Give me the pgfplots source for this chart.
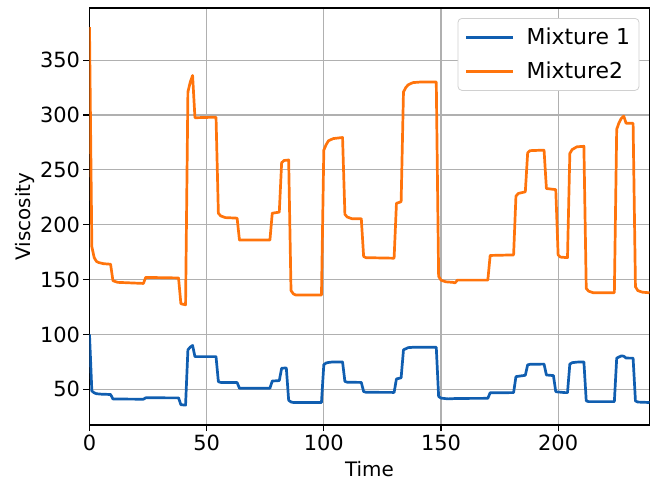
\documentclass[border=0pt]{standalone}
\usepackage{pgfplots}
\pgfplotsset{compat=1.18}
\usepackage{fontspec}
\setmainfont{DejaVu Sans}
\definecolor{mblue}{RGB}{16,94,176}
\definecolor{morange}{RGB}{255,116,12}
\definecolor{gridc}{RGB}{176,176,176}
\begin{document}
\begin{tikzpicture}
\begin{axis}[
  scale only axis, width=560bp, height=417bp,
  xmin=0, xmax=239, ymin=17.5, ymax=397.5,
  xtick={0,50,100,150,200}, ytick={50,100,150,200,250,300,350},
  grid=major, major grid style={color=gridc, line width=1.1bp},
  axis line style={line width=1.1bp},
  tick align=outside, major tick length=6bp, tick style={black, line width=1.1bp},
  tick pos=left,
  /pgf/number format/assume math mode=true,
  ticklabel style={font=\fontsize{21}{25}\selectfont},
  label style={font=\fontsize{20}{24}\selectfont},
  xlabel={Time}, ylabel={Viscosity},
  xlabel style={at={(axis description cs:0.5,-0.1247)}, anchor=base},
  ylabel style={at={(axis description cs:-0.1152,0.5)}, anchor=center},
  legend style={at={(axis description cs:0.982,0.976)}, anchor=north east,
    draw=gridc!60, rounded corners=4bp, line width=0.8bp,
    font=\fontsize{22}{26}\selectfont, inner xsep=7bp, inner ysep=2bp,
    nodes={minimum height=34bp},
    /tikz/every odd column/.append style={column sep=10bp}},
  legend cell align=left,
  legend image code/.code={\draw[#1, line width=2.7bp] (0bp,0bp) -- (47bp,0bp);},
  every axis plot/.append style={line width=2.7bp, line join=round},
]
\addplot[mblue] coordinates {
(0,100) (1,48.5) (2,46.8) (3,46) (5,45.6) (9,45.3) (10,41.2) (23,41) (24,42.3) (38,42.2) (39,36) (41,35.6) (42,86) (43,88.5) (44,90) (45,79.8) (54,79.8) (55,57) (56,56.3) (63,56.2) (64,51) (77,51) (78,57.6) (80,57.8) (81,58) (82,69.2) (84,69.5) (85,40) (86,38.5) (87,38) (99,38) (100,72.5) (101,74) (102,74.5) (104,75) (108,75) (109,57.2) (110,56.5) (116,56.3) (117,48) (118,47.3) (130,47.2) (131,59.5) (133,60.5) (134,86) (135,87) (136,88) (138,88.3) (148,88.3) (149,43.5) (150,42) (153,41.3) (157,41.7) (170,41.8) (171,46.9) (181,47) (182,61.6) (185,62.5) (186,62.8) (187,72.3) (188,72.8) (194,73) (195,63.1) (198,62.5) (199,47.8) (203,47) (204,47) (205,73) (206,74.3) (208,74.8) (211,75) (212,39.5) (213,38.8) (224,38.8) (225,78.4) (226,79.5) (227,80.5) (228,80.2) (229,78.5) (232,78.4) (233,39.4) (234,38.4) (239,38)
};
\addlegendentry{Mixture 1}
\addplot[morange] coordinates {
(0,380) (1,180) (2,170) (3,166.5) (4,165.5) (6,164.5) (9,164) (10,149) (12,147.5) (23,146.5) (24,152) (38,151.5) (39,128) (41,127) (42,321) (43,330) (44,336) (45,297.5) (54,298) (55,210.5) (56,208) (58,206.5) (63,206) (64,186) (77,186) (78,210.5) (81,211.5) (82,256.5) (83,258.5) (85,259) (86,140) (87,137) (88,136) (99,136) (100,268) (101,273) (102,276.5) (104,278.5) (108,279.5) (109,209.5) (110,207) (112,205.5) (116,205.5) (117,171) (118,170) (130,169.5) (131,219.5) (133,221) (134,321) (135,325) (136,327.5) (138,329.5) (141,330) (148,330) (149,153) (150,149.5) (152,148) (155,147.5) (156,147) (157,149.5) (170,149.5) (171,172) (181,172.5) (182,226) (183,228.5) (185,229.5) (186,230) (187,265.5) (188,267.5) (194,268) (195,233) (199,232) (200,172.5) (201,170.5) (204,170) (205,265) (206,268.5) (208,271) (211,271.5) (212,142) (213,139.5) (215,138) (224,138) (225,287) (226,293) (227,297) (228,299) (229,292.5) (232,292.5) (233,143.5) (234,140) (236,138.5) (239,138)
};
\addlegendentry{Mixture2}
\end{axis}
\pgfresetboundingbox
\path[use as bounding box] (current axis.south west) ++(-89.5bp,-61bp) rectangle ++(660bp,486bp);
\end{tikzpicture}
\end{document}
